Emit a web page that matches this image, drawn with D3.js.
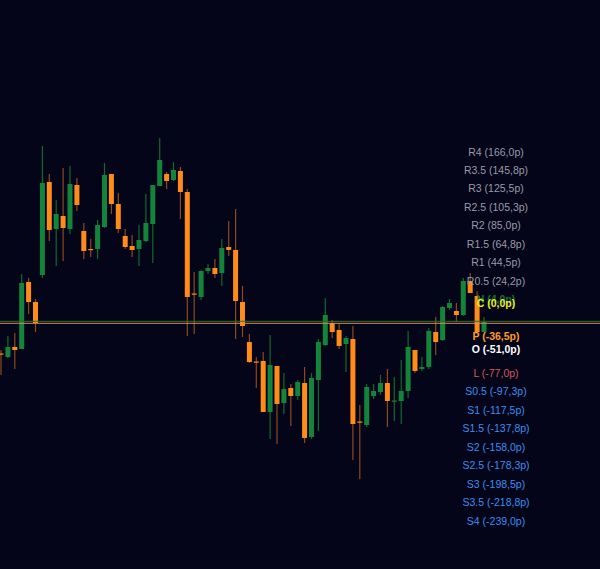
<!DOCTYPE html>
<html><head><meta charset="utf-8">
<script src="https://cdn.jsdelivr.net/npm/d3@7"></script>
<style>html,body{margin:0;padding:0;background:#05051a;}svg{display:block;}</style>
</head><body><svg id="c" width="600" height="569"></svg>
<script>
// candle data [open, high, low, close]
const opens  = [246.5,243,253,251,318,298,325,418,371,384,371,415,369,351,351,373,426,396,364,354,351,359,376,414,426,420,429,408,306.5,303,329,332,327,353,350,298,258,238.5,239,188,234,197,212,204,217,163,220,255,277,270,256,261,178.5,175,204,208,217,199,199,209,250,231,233,268,260,292,289,285,319,304,268];
const highs  = [250,264,267,326,322,301,454,426,400,432,434,422,377,361,380,437,426,407,371,365,375,406,415,462,428,438,433,411,328,330,336,341,361,379,391,314,266,243,248,265,234,227,216,220,233,227,261,302,280,276,264,274,195,216,216,225,231,223,240,269,250,243,272,283,294,301,297,322,327,309,283];
const lows   = [225,242,231,251,286,268,322,359,334,339,366,389,341,343,341,372,386,367,351,343,334,358,337,414,411,419,381,264,266,300,326,322,314,344,261,263,237,212,188,161,156,186,174,200,157,161,169,254,262,251,228,140,121,173,201,205,173,179,176,202,227,229,231,245,259,290,278,284,307,267,268];
const closes = [246,253,250,317,298,277,417,370,386,372,416,395,349,350,375,425,396,371,353,350,360,377,415,440,419,430,408,303,306,329,332,326,352,350,299,274,238,238,188,235,196,211,204,218,162,222,258,285,268,254,262,176,178,213,209,217,199,199.5,209,253,229,233,269,258,293,297,285,319,307,268,278];

// pivot levels in pips
const levelNames  = ["R4","R3.5","R3","R2.5","R2","R1.5","R1","R0.5","H","C","P","O","L","S0.5","S1","S1.5","S2","S2.5","S3","S3.5","S4"];
const levelValues = [166.0,145.8,125.5,105.3,85.0,64.8,44.5,24.2,4.0,0.0,-36.5,-51.0,-77.0,-97.3,-117.5,-137.8,-158.0,-178.3,-198.5,-218.8,-239.0];
const levelColors = ["#9a9aa6","#9a9aa6","#9a9aa6","#9a9aa6","#9a9aa6","#9a9aa6","#9a9aa6","#9a9aa6","#16702e","#e8ec2a","#ff9a2a","#ffffff","#d05a5a","#3a8ef0","#3a8ef0","#3a8ef0","#3a8ef0","#3a8ef0","#3a8ef0","#3a8ef0","#3a8ef0"];
const levelBold   = [0,0,0,0,0,0,0,0,1,1,1,1,0,0,0,0,0,0,0,0,0];
// current price lines (pips)
const priceLines = [-19.8, -22.0];
const priceLineColors = ["#3f6a22","#c8965a"];

const svg = d3.select("#c");
const W = 600, H = 569;
svg.append("rect").attr("width",W).attr("height",H).attr("fill","#05051a");

const x = d3.scaleLinear().domain([0, opens.length-1]).range([1, 484]);
const y = d3.scaleLinear().domain([31, 600]).range([H, 0]);
const yPip = d3.scaleLinear().domain([166, -239]).range([152, 521]);

const data = opens.map((o,i)=>({o, h:highs[i], l:lows[i], c:closes[i], i}));
const g = svg.append("g");
g.selectAll("line.wick").data(data).enter().append("line")
  .attr("x1", d=>x(d.i)).attr("x2", d=>x(d.i))
  .attr("y1", d=>y(d.h)).attr("y2", d=>y(d.l))
  .attr("stroke", d=> d.c>=d.o ? "#0f6a2c" : "#8a4a1e").attr("stroke-width",1.2);
g.selectAll("rect.body").data(data).enter().append("rect")
  .attr("x", d=>x(d.i)-2.5).attr("width",5)
  .attr("y", d=>y(Math.max(d.o,d.c)))
  .attr("height", d=>Math.max(1.2, Math.abs(y(d.o)-y(d.c))))
  .attr("fill", d=> d.c>=d.o ? "#14843a" : "#ff8c1a");

priceLines.forEach((p,i)=>{
  svg.append("line").attr("x1",0).attr("x2",W).attr("y1",yPip(p)).attr("y2",yPip(p))
    .attr("stroke",priceLineColors[i]).attr("stroke-width",1);
});

levelNames.forEach((n,i)=>{
  const v = levelValues[i].toFixed(1).replace(".",",");
  svg.append("text").attr("x",496).attr("y",yPip(levelValues[i])+3.5)
    .attr("text-anchor","middle").attr("fill",levelColors[i])
    .attr("font-family","Liberation Sans, Arial, sans-serif").attr("font-size",10.5)
    .attr("font-weight", levelBold[i] ? "bold" : "normal")
    .text(`${n} (${v}p)`);
});
</script></body></html>
